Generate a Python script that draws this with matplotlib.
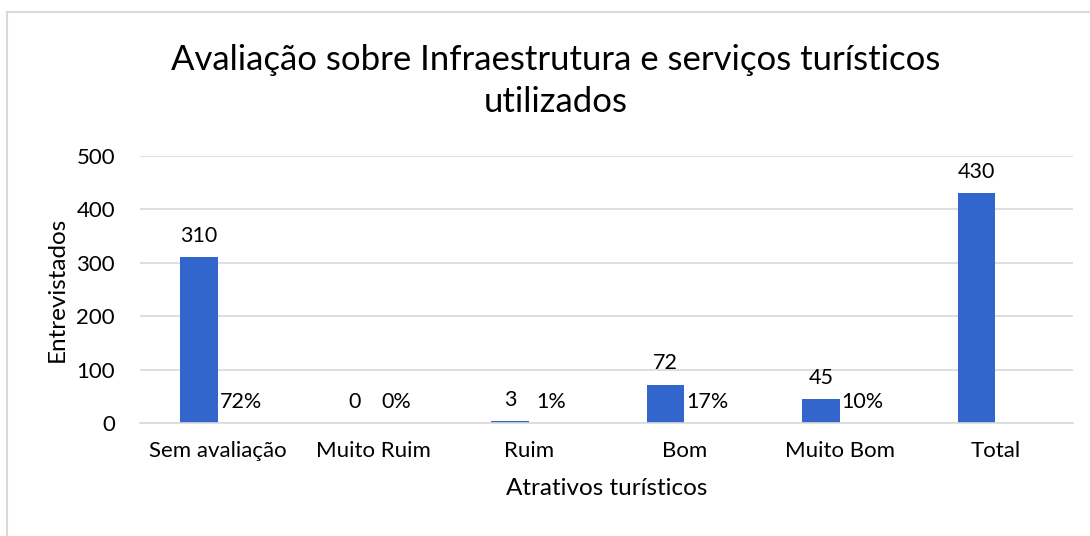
import numpy as np
import matplotlib.pyplot as plt
from matplotlib.lines import Line2D

categories = ['Sem avaliação', 'Muito Ruim', 'Ruim', 'Bom', 'Muito Bom', 'Total']
counts = [310, 0, 3, 72, 45, 430]
shares = [0.72, 0.00, 0.01, 0.17, 0.10, np.nan]

plt.rcParams['font.family'] = ['Lato', 'DejaVu Sans']

fig = plt.figure(figsize=(10.9, 5.36), dpi=100)
ax = fig.add_axes([140 / 1090, 1 - 423 / 536, (1073 - 140) / 1090, (423 - 156) / 536])

x = np.arange(len(categories))
w = 0.24
blue = '#3366CC'
tan = '#E6D7AE'

b1 = ax.bar(x - w / 2, counts, w, color=blue)
b2 = ax.bar(x + w / 2, np.nan_to_num(shares), w, color=tan)

# data labels
for xi, v in zip(x, counts):
    ax.annotate(f'{v}', (xi - w / 2, v), xytext=(0, 8), textcoords='offset points',
                ha='center', va='bottom', fontsize=15.5)
for xi, v in zip(x, shares):
    if np.isnan(v):
        continue
    ax.annotate(f'{v:.0%}', (xi + w / 2, v), xytext=(3, 8), textcoords='offset points',
                ha='center', va='bottom', fontsize=15.5)

ax.set_xlim(-0.5, len(categories) - 0.5)
ax.set_ylim(0, 500)
ax.set_yticks(range(0, 501, 100))
ax.set_xticks(x)
ax.set_xticklabels(categories, fontsize=16)
ax.tick_params(axis='y', labelsize=16, length=0, pad=18)
ax.tick_params(axis='x', length=0, pad=13)
ax.grid(axis='y', color='#D9D9D9', linewidth=1.2)
ax.set_axisbelow(True)
for s in ['top', 'right', 'left']:
    ax.spines[s].set_visible(False)
ax.spines['bottom'].set_color('#D9D9D9')
ax.spines['bottom'].set_linewidth(1.2)

ax.set_ylabel('Entrevistados', fontsize=17.5, labelpad=6)
ax.set_xlabel('Atrativos turísticos', fontsize=17.5, labelpad=12)

fig.text(556 / 1090, 1 - 81 / 536,
         'Avaliação sobre Infraestrutura e serviços turísticos\nutilizados',
         ha='center', va='center', fontsize=25, linespacing=1.4)

# chart border
fig.add_artist(Line2D([7 / 1090, 7 / 1090], [0, 1 - 12 / 536], color='#D9D9D9', lw=1.5,
                      transform=fig.transFigure))
fig.add_artist(Line2D([7 / 1090, 1], [1 - 12 / 536, 1 - 12 / 536], color='#D9D9D9', lw=1.5,
                      transform=fig.transFigure))

fig.savefig('out.png', dpi=100)
